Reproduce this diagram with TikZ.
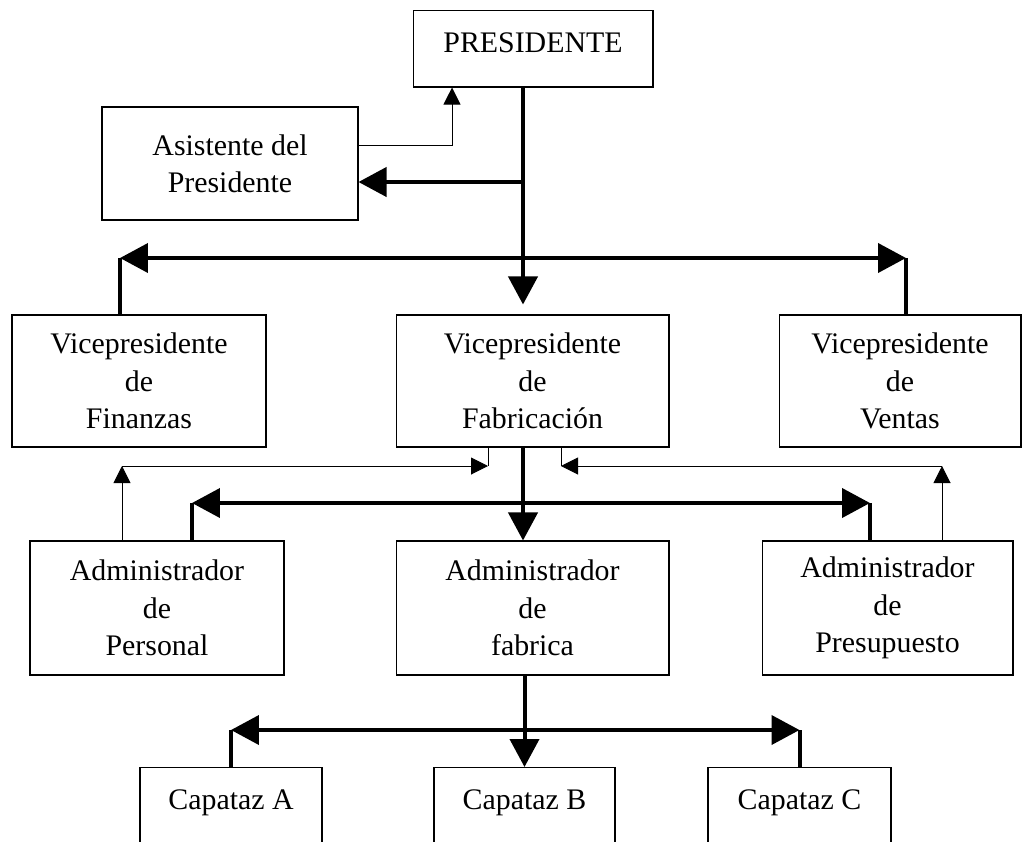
\documentclass[tikz,border=0pt]{standalone}
\usepackage{fontspec}
\setmainfont{Liberation Serif}
\usetikzlibrary{arrows.meta}

\tikzset{
  caja/.style={draw, line width=0.6pt, align=center, inner sep=0pt,
    font=\fontsize{17pt}{21.3pt}\selectfont},
  cajauna/.style={caja, anchor=north, text height=0.83cm},
  lineagrande/.style={line width=0.08cm},
  lineachica/.style={line width=0.02cm},
  flechagrande/.style={lineagrande, -{Triangle[length=0.56cm,width=0.58cm]}},
  flechachica/.style={lineachica, -{Triangle[length=0.34cm,width=0.34cm]}}
}

\begin{document}
\begin{tikzpicture}[x=0.02cm, y=-0.02cm]
            \useasboundingbox (0,0) rectangle (1028,842);
            \clip (0,0) rectangle (1028,842);

            % cajas
            \node[cajauna, minimum width=4.8cm, text depth=0.7cm] (pres) at (533,10) {PRESIDENTE};
            \node[caja, minimum width=5.12cm, minimum height=2.26cm] (asis) at (230,163.5) {Asistente del\\Presidente};

            \node[caja, minimum width=5.08cm, minimum height=2.64cm] (vpfin) at (139,381) {Vicepresidente\\de\\Finanzas};
            \node[caja, minimum width=5.46cm, minimum height=2.64cm] (vpfab) at (532.5,381) {Vicepresidente\\de\\Fabricación};
            \node[caja, minimum width=4.84cm, minimum height=2.64cm] (vpven) at (900,381) {Vicepresidente\\de\\Ventas};

            \node[caja, minimum width=5.08cm, minimum height=2.68cm] (admper) at (157,608) {Administrador\\de\\Personal};
            \node[caja, minimum width=5.46cm, minimum height=2.68cm] (admfab) at (532.5,608) {Administrador\\de\\fabrica};
            \node[caja, minimum width=5.02cm, minimum height=2.68cm] (admpre) at (887.5,608) {Administrador\\de\\Presupuesto};

            \node[cajauna, minimum width=3.64cm, text depth=1.5cm] (capa) at (231,767) {Capataz A};
            \node[cajauna, minimum width=3.62cm, text depth=1.5cm] (capb) at (524.5,767) {Capataz B};
            \node[cajauna, minimum width=3.66cm, text depth=1.5cm] (capc) at (799.5,767) {Capataz C};

            % puntos de los conectores
            \coordinate (jasis) at (523,182);
            \coordinate (b1) at (523,258);
            \coordinate (b1i) at (120,258);
            \coordinate (b1d) at (906,258);
            \coordinate (ti) at (122,466);
            \coordinate (tfi) at (488,466);
            \coordinate (tfd) at (561,466);
            \coordinate (td) at (942,466);
            \coordinate (b2) at (523,503);
            \coordinate (b2i) at (192,503);
            \coordinate (b2d) at (870,503);
            \coordinate (b3) at (524.5,730);

            % presidente
            \draw[flechagrande, shorten >=0.2cm] (b1 |- pres.south) -- (b1 |- vpfab.north);
            \draw[flechagrande] (jasis) -- (jasis -| asis.east);
            \draw[flechachica] ([yshift=0.37cm]asis.east) -| ([xshift=-1.62cm]pres.south);

            \draw[flechagrande] (b1) -- (b1i);
            \draw[lineagrande] (b1i) -- (b1i |- vpfin.north);
            \draw[flechagrande] (b1) -- (b1d);
            \draw[lineagrande] (b1d) -- (b1d |- vpven.north);

            % fabricacion
            \draw[flechachica] (ti |- admper.north) -- (ti);
            \draw[flechachica] (ti) -- (tfi);
            \draw[lineachica] (tfi) -- (tfi |- vpfab.south);
            \draw[flechachica] (td |- admpre.north) -- (td);
            \draw[flechachica] (td) -- (tfd);
            \draw[lineachica] (tfd) -- (tfd |- vpfab.south);

            \draw[flechagrande] (b2 |- vpfab.south) -- (b2 |- admfab.north);
            \draw[flechagrande] (b2) -- (b2i);
            \draw[lineagrande] (b2i) -- (b2i |- admper.north);
            \draw[flechagrande] (b2) -- (b2d);
            \draw[lineagrande] (b2d) -- (b2d |- admpre.north);

            % fabrica
            \draw[flechagrande] (b3 |- admfab.south) -- (capb.north);
            \draw[flechagrande] (b3) -- (b3 -| capa.north);
            \draw[lineagrande] (b3 -| capa.north) -- (capa.north);
            \draw[flechagrande] (b3) -- (b3 -| capc.north);
            \draw[lineagrande] (b3 -| capc.north) -- (capc.north);
        \end{tikzpicture}
\end{document}
